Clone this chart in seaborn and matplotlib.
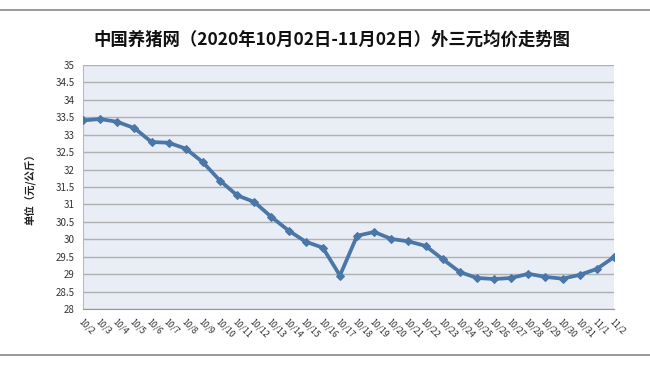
import matplotlib
matplotlib.use("Agg")
import matplotlib.pyplot as plt
from matplotlib.lines import Line2D
import seaborn as sns
import pandas as pd

dates = ["10/2", "10/3", "10/4", "10/5", "10/6", "10/7", "10/8", "10/9", "10/10",
         "10/11", "10/12", "10/13", "10/14", "10/15", "10/16", "10/17", "10/18",
         "10/19", "10/20", "10/21", "10/22", "10/23", "10/24", "10/25", "10/26",
         "10/27", "10/28", "10/29", "10/30", "10/31", "11/1", "11/2"]
prices = [33.41, 33.45, 33.37, 33.19, 32.79, 32.77, 32.60, 32.21, 31.68,
          31.26, 31.07, 30.64, 30.25, 29.93, 29.76, 28.96, 30.10,
          30.21, 30.01, 29.94, 29.81, 29.43, 29.06, 28.89, 28.86,
          28.89, 29.01, 28.92, 28.87, 28.98, 29.15, 29.49]
yticks = [28, 28.5, 29, 29.5, 30, 30.5, 31, 31.5, 32, 32.5, 33, 33.5, 34, 34.5, 35]
ytick_labels = ["28", "28.5", "29", "29.5", "30", "30.5", "31", "31.5", "32",
                "32.5", "33", "33.5", "34", "34.5", "35"]

sns.set_theme(style="white")
plt.rcParams['font.family'] = ['Noto Sans CJK SC', 'DejaVu Sans']

df = pd.DataFrame({"idx": range(len(dates)), "price": prices})

fig = plt.figure(figsize=(6.5, 3.66), dpi=100)
fig.patch.set_facecolor("white")
ax = fig.add_axes([83 / 650, 1 - 309 / 366, (614 - 83) / 650, (309 - 65) / 366])
ax.set_facecolor("#E9EDF5")

sns.lineplot(data=df, x="idx", y="price", ax=ax, color="#4A76A8", linewidth=2.7,
             marker="D", markersize=4.5, markeredgecolor="#4A76A8", zorder=3)

ax.set_xlim(0, len(dates) - 1)
ax.set_ylim(28, 35)
ax.set_yticks(yticks)
ax.set_yticklabels(ytick_labels, fontsize=7, color="#333333")
ax.set_xticks(range(len(dates)))
ax.set_xticklabels(dates, fontsize=6.3, color="#333333", rotation=-45,
                   ha="left", va="top", rotation_mode="anchor")
ax.tick_params(axis="x", length=2, color="#999999", pad=4)
ax.tick_params(axis="y", length=0, pad=6)
ax.grid(axis="y", color="#B0B0B0", linewidth=1.0)
ax.grid(axis="x", visible=False)
ax.set_xlabel("")
ax.set_ylabel("单位（元/公斤）", fontsize=7.5, fontweight="bold", color="#222222", labelpad=14)
for side in ["top", "right"]:
    ax.spines[side].set_visible(False)
ax.spines["left"].set_color("#BBBBBB")
ax.spines["bottom"].set_color("#999999")
ax.spines["left"].set_linewidth(0.8)
ax.spines["bottom"].set_linewidth(0.8)

fig.text(0.510, 1 - 40 / 366, "中国养猪网（2020年10月02日-11月02日）外三元均价走势图",
         ha="center", va="center", fontsize=12.5, fontweight="bold", color="#111111")

fig.add_artist(Line2D([0, 1], [1 - 10 / 366, 1 - 10 / 366], color="#888888", linewidth=1.2))
fig.add_artist(Line2D([0, 1], [1 - 355 / 366, 1 - 355 / 366], color="#888888", linewidth=1.2))

fig.savefig("out.png", dpi=100)
